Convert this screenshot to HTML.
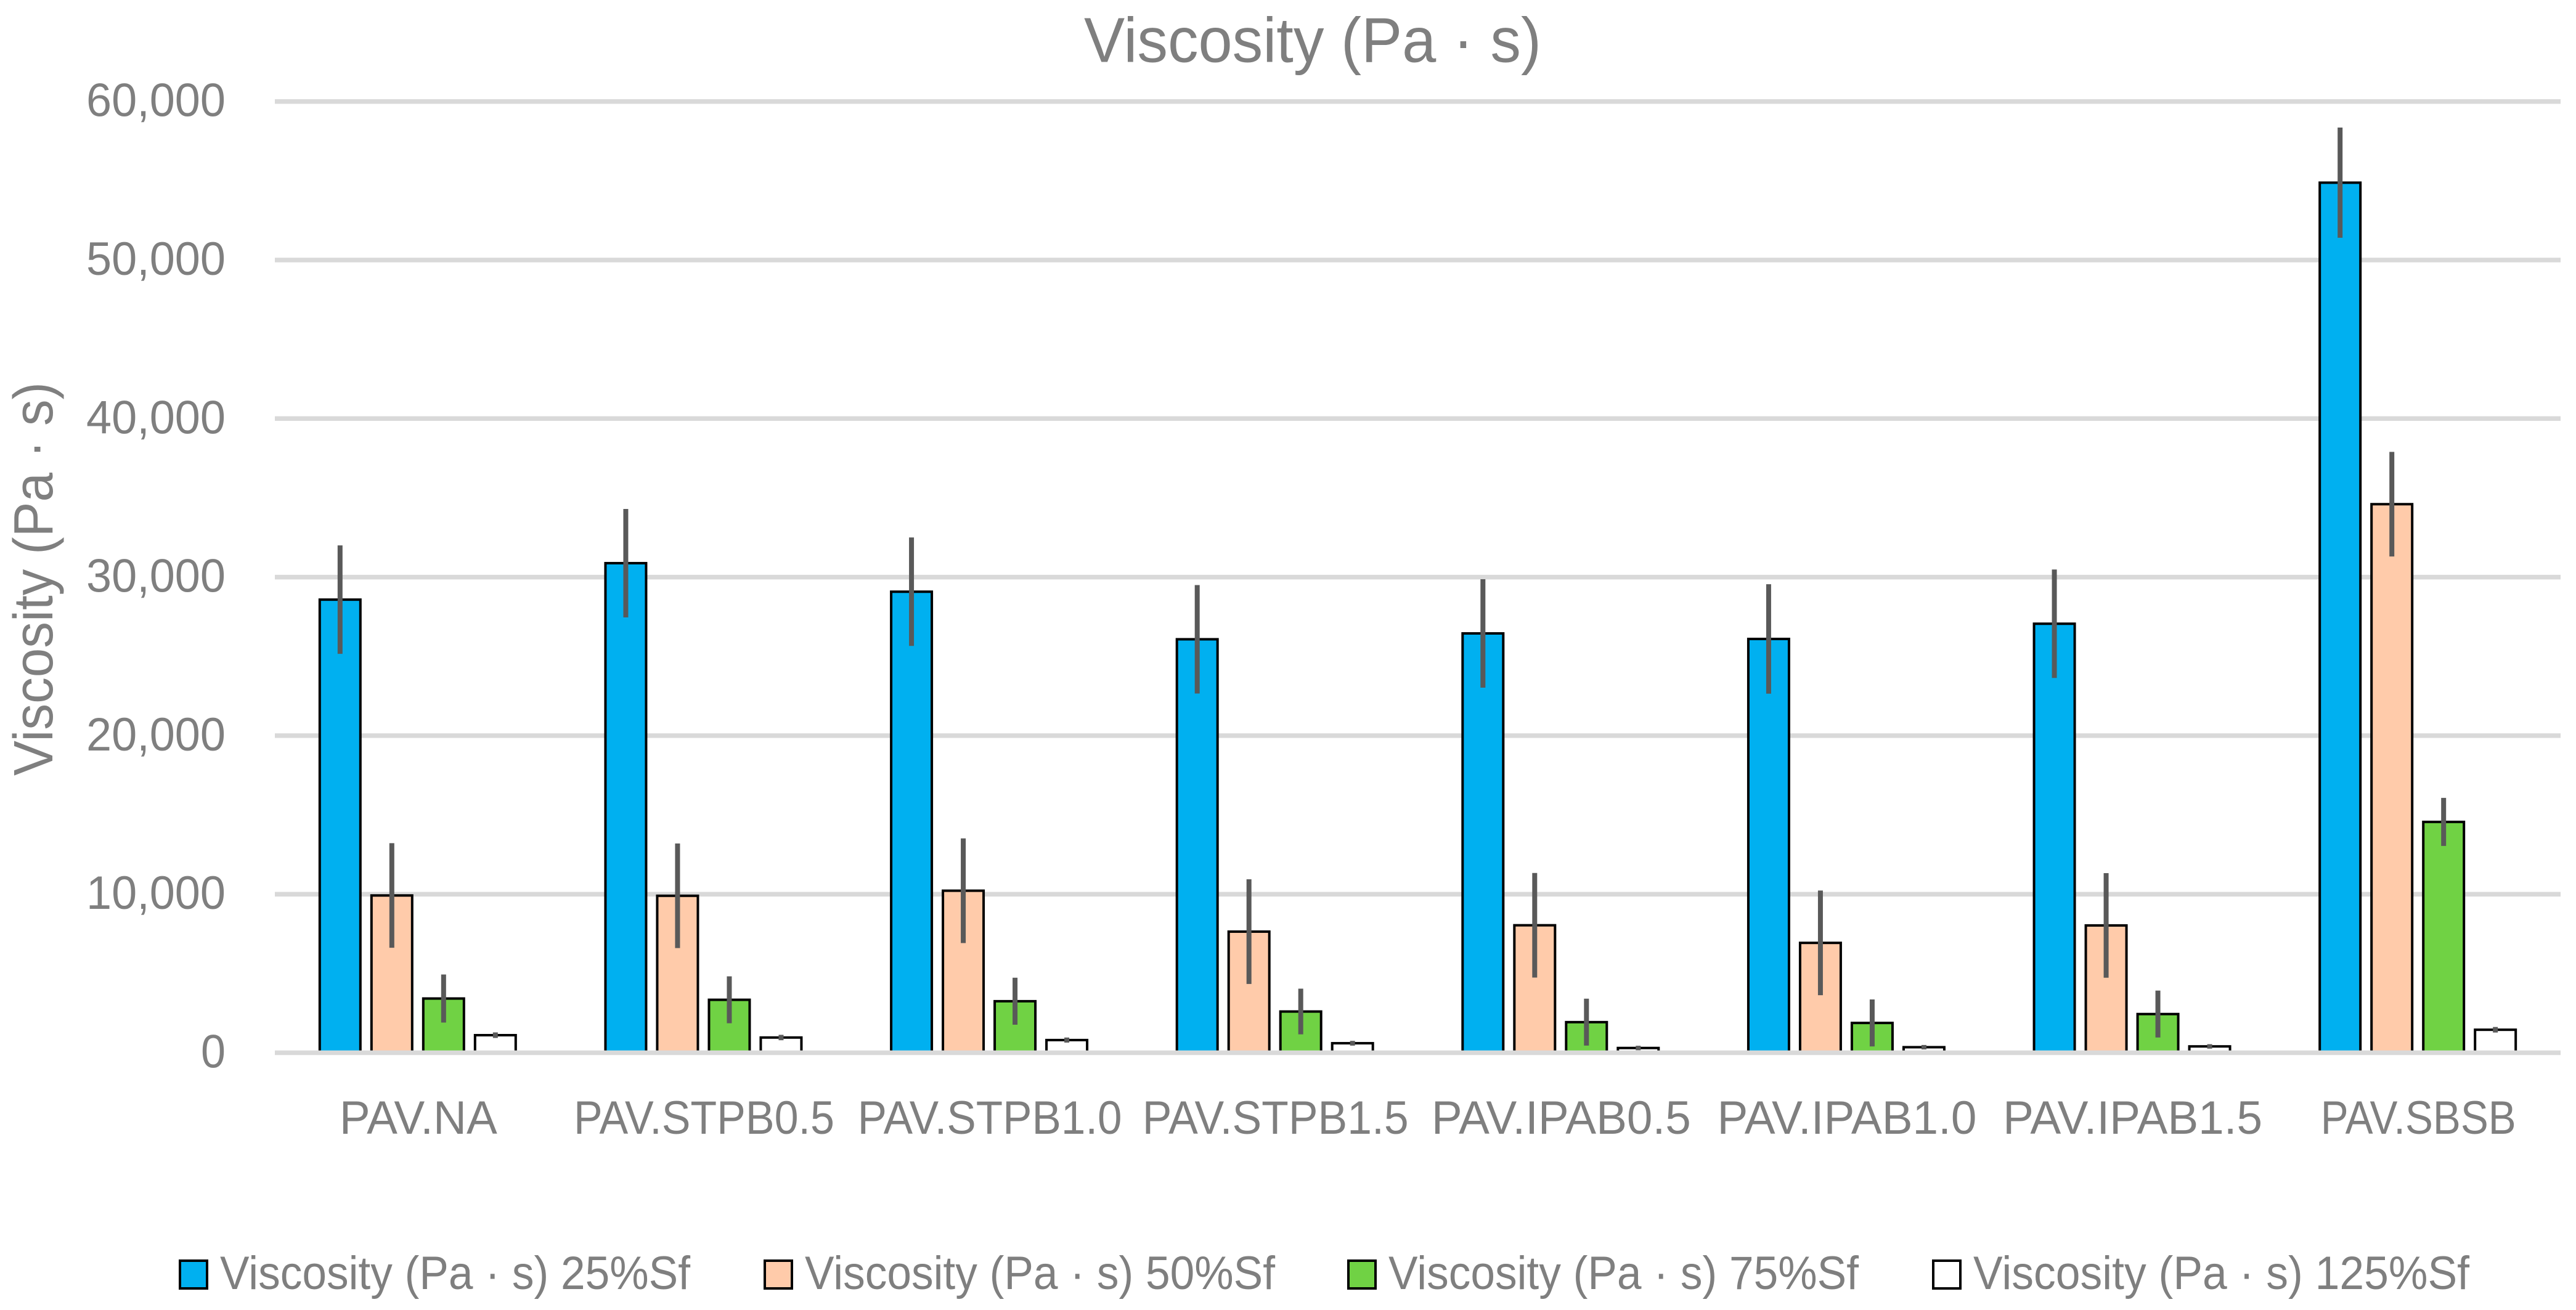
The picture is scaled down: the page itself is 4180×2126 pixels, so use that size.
<!DOCTYPE html>
<html lang="en">
<head>
<meta charset="utf-8">
<title>Viscosity (Pa · s)</title>
<style>
html,body{margin:0;padding:0;background:#fff;width:4180px;height:2126px;overflow:hidden}
svg{display:block}
text{font-family:"Liberation Sans","DejaVu Sans",sans-serif;fill:#7f7f7f}
</style>
</head>
<body>
<svg id="chart" xmlns="http://www.w3.org/2000/svg" width="4180" height="2126" viewBox="0 0 4180 2126">
<rect x="0" y="0" width="4180" height="2126" fill="#ffffff"/>
<text x="2130" y="100.5" font-size="103" text-anchor="middle" textLength="742" lengthAdjust="spacingAndGlyphs">Viscosity (Pa · s)</text>
<text transform="translate(85,939.5) rotate(-90)" font-size="90" text-anchor="middle" textLength="639" lengthAdjust="spacingAndGlyphs">Viscosity (Pa · s)</text>
<g id="grid"></g>
<g id="bars"></g>
<g id="baseline"></g>
<g id="errors"></g>
<g id="ticks"></g>
<g id="cats"></g>
<g>
  <g>
    <rect x="292" y="2046" width="44" height="45" fill="#00b0f0" stroke="#000" stroke-width="4"/>
    <text x="357" y="2092" font-size="76" textLength="763" lengthAdjust="spacingAndGlyphs">Viscosity (Pa · s) 25%Sf</text>
  </g>
  <g>
    <rect x="1241" y="2046" width="44" height="45" fill="#ffcbaa" stroke="#000" stroke-width="4"/>
    <text x="1306" y="2092" font-size="76" textLength="763" lengthAdjust="spacingAndGlyphs">Viscosity (Pa · s) 50%Sf</text>
  </g>
  <g>
    <rect x="2188" y="2046" width="44" height="45" fill="#70d244" stroke="#000" stroke-width="4"/>
    <text x="2253" y="2092" font-size="76" textLength="763" lengthAdjust="spacingAndGlyphs">Viscosity (Pa · s) 75%Sf</text>
  </g>
  <g>
    <rect x="3137" y="2046" width="44" height="45" fill="#ffffff" stroke="#000" stroke-width="4"/>
    <text x="3202" y="2092" font-size="76" textLength="805" lengthAdjust="spacingAndGlyphs">Viscosity (Pa · s) 125%Sf</text>
  </g>
</g>
</svg>
<script>
const categories = ["PAV.NA","PAV.STPB0.5","PAV.STPB1.0","PAV.STPB1.5","PAV.IPAB0.5","PAV.IPAB1.0","PAV.IPAB1.5","PAV.SBSB"];
const yTickValues = [0,10000,20000,30000,40000,50000,60000];
const sf25 = [28580,30880,29080,26080,26450,26100,27060,54880];
const sf50 = [9920,9900,10220,7640,8040,6930,8030,34600];
const sf75 = [3420,3340,3250,2600,1930,1880,2440,14560];
const sf125 = [1108,960,800,600,300,350,400,1450];
const err25 = [3420,3420,3420,3420,3420,3450,3420,3478];
const err50 = [3300,3300,3300,3300,3300,3300,3300,3300];
const err75 = [1516,1480,1480,1440,1480,1480,1480,1516];
const err125 = [175,170,160,150,140,140,140,175];

const NS = "http://www.w3.org/2000/svg";
const plotLeft = 446, plotRight = 4155, y0 = 1708.5, pxPerUnit = 0.02573;
const catStep = (plotRight - plotLeft) / categories.length;
const barStep = 84, barW = 66;
const yScale = function (v) { return y0 - v * pxPerUnit; };
const xScale = function (c) { return plotLeft + catStep * (c + 0.5); };
const fitWidths = {"PAV.NA":256,"PAV.STPB0.5":423,"PAV.STPB1.0":429,"PAV.STPB1.5":432,"PAV.IPAB0.5":421,"PAV.IPAB1.0":421,"PAV.IPAB1.5":421,"PAV.SBSB":317};
const seriesList = [
  {key:"25", values:sf25, errs:err25, fill:"#00b0f0"},
  {key:"50", values:sf50, errs:err50, fill:"#ffcbaa"},
  {key:"75", values:sf75, errs:err75, fill:"#70d244"},
  {key:"125", values:sf125, errs:err125, fill:"#ffffff"}
];
function make(tag, attrs, parent) {
  const el = document.createElementNS(NS, tag);
  for (const k in attrs) el.setAttribute(k, attrs[k]);
  parent.appendChild(el);
  return el;
}
const gridG = document.getElementById("grid");
const barsG = document.getElementById("bars");
const baseG = document.getElementById("baseline");
const errG = document.getElementById("errors");
const tickG = document.getElementById("ticks");
const catG = document.getElementById("cats");

yTickValues.forEach(function (t) {
  const parent = t === 0 ? baseG : gridG;
  const line = make("line", {x1: plotLeft, x2: plotRight, y1: yScale(t), y2: yScale(t), stroke: "#d9d9d9", "stroke-width": 7.5}, parent);
  
  
  const label = make("text", {x: 366, y: yScale(t) + 24, "font-size": 76, "text-anchor": "end", textLength: t === 0 ? 40 : 226, lengthAdjust: "spacingAndGlyphs"}, tickG);
  label.textContent = t.toLocaleString("en-US");
  
  
});

categories.forEach(function (cat, c) {
  const label = make("text", {x: xScale(c) + 1, y: 1840, "font-size": 76, "text-anchor": "middle", textLength: fitWidths[cat] || 420, lengthAdjust: "spacingAndGlyphs"}, catG);
  label.textContent = cat;
  
  
  seriesList.forEach(function (s, i) {
    const cx = xScale(c) + (i - 1.5) * barStep;
    const top = yScale(s.values[c]);
    const bar = make("rect", {x: cx - barW / 2, y: top, width: barW, height: Math.max(0, y0 - top), fill: s.fill, stroke: "#000", "stroke-width": 4}, barsG);
    
    
    const err = make("line", {x1: cx, x2: cx, y1: yScale(s.values[c] + s.errs[c]), y2: yScale(s.values[c] - s.errs[c]), stroke: "#595959", "stroke-width": 8}, errG);
    
    
  });
});
</script>
</body>
</html>
